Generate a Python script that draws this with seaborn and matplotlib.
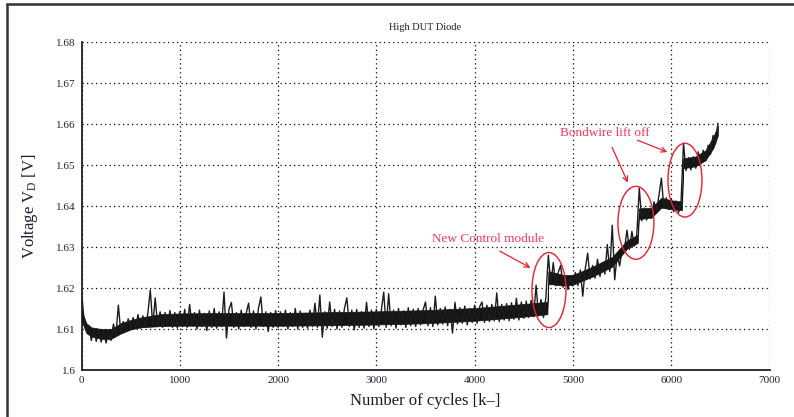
import matplotlib
matplotlib.use("Agg")
import matplotlib.pyplot as plt
import seaborn as sns
import pandas as pd
from matplotlib.patches import Ellipse
from matplotlib.lines import Line2D

sns.set_style("white")
plt.rcParams['font.family'] = ['Liberation Serif', 'DejaVu Serif']
plt.rcParams['mathtext.fontset'] = 'custom'
plt.rcParams['mathtext.rm'] = 'Liberation Serif'
plt.rcParams['mathtext.it'] = 'Liberation Serif:italic'

# ---------------- data (one sample every 25 k-cycles) ----------------
sample_step = 25
volt_0k = [1.6190, 1.6125, 1.6095, 1.6108, 1.6072, 1.6100, 1.6070, 1.6098, 1.6068, 1.6096,
           1.6066, 1.6094, 1.6072, 1.6112, 1.6085, 1.6158, 1.6092, 1.6118, 1.6096, 1.6125,
           1.6100, 1.6128, 1.6104, 1.6135, 1.6102, 1.6132, 1.6104, 1.6138, 1.6195, 1.6108,
           1.6176, 1.6106, 1.6142, 1.6104, 1.6140, 1.6108, 1.6145, 1.6104, 1.6140, 1.6102]
volt_1k = [1.6142, 1.6106, 1.6148, 1.6104, 1.6160, 1.6108, 1.6140, 1.6100, 1.6146, 1.6106,
           1.6138, 1.6096, 1.6144, 1.6104, 1.6150, 1.6102, 1.6142, 1.6106, 1.6190, 1.6078,
           1.6148, 1.6165, 1.6104, 1.6140, 1.6100, 1.6146, 1.6106, 1.6138, 1.6163, 1.6104,
           1.6144, 1.6100, 1.6150, 1.6178, 1.6106, 1.6142, 1.6094, 1.6140, 1.6104, 1.6145]
volt_2k = [1.6104, 1.6142, 1.6106, 1.6146, 1.6100, 1.6140, 1.6106, 1.6150, 1.6100, 1.6144,
           1.6104, 1.6138, 1.6102, 1.6146, 1.6106, 1.6163, 1.6104, 1.6183, 1.6080, 1.6142,
           1.6102, 1.6166, 1.6106, 1.6148, 1.6100, 1.6144, 1.6104, 1.6150, 1.6176, 1.6106,
           1.6146, 1.6098, 1.6148, 1.6104, 1.6142, 1.6102, 1.6165, 1.6106, 1.6146, 1.6100]
volt_3k = [1.6148, 1.6106, 1.6144, 1.6190, 1.6104, 1.6186, 1.6108, 1.6146, 1.6102, 1.6150,
           1.6110, 1.6144, 1.6104, 1.6152, 1.6108, 1.6148, 1.6106, 1.6150, 1.6110, 1.6146,
           1.6166, 1.6108, 1.6152, 1.6106, 1.6180, 1.6110, 1.6150, 1.6112, 1.6154, 1.6108,
           1.6148, 1.6090, 1.6165, 1.6112, 1.6152, 1.6114, 1.6156, 1.6110, 1.6150, 1.6116]
volt_4k = [1.6158, 1.6114, 1.6154, 1.6166, 1.6116, 1.6158, 1.6118, 1.6160, 1.6120, 1.6188,
           1.6118, 1.6160, 1.6122, 1.6162, 1.6120, 1.6164, 1.6124, 1.6175, 1.6122, 1.6166,
           1.6126, 1.6168, 1.6128, 1.6170, 1.6130, 1.6207, 1.6132, 1.6172, 1.6128, 1.6178,
           1.6280, 1.6208, 1.6262, 1.6206, 1.6238, 1.6255, 1.6202, 1.6230, 1.6196, 1.6226]
volt_5k = [1.6205, 1.6238, 1.6206, 1.6244, 1.6180, 1.6246, 1.6285, 1.6222, 1.6255, 1.6224,
           1.6270, 1.6228, 1.6262, 1.6234, 1.6306, 1.6240, 1.6353, 1.6220, 1.6282, 1.6254,
           1.6292, 1.6296, 1.6341, 1.6294, 1.6338, 1.6302, 1.6330, 1.6444, 1.6364, 1.6395,
           1.6366, 1.6392, 1.6370, 1.6410, 1.6388, 1.6425, 1.6468, 1.6396, 1.6420, 1.6392]
volt_6k = [1.6418, 1.6386, 1.6412, 1.6384, 1.6410, 1.6553, 1.6486, 1.6518, 1.6488, 1.6520,
           1.6492, 1.6532, 1.6502, 1.6536, 1.6510, 1.6548, 1.6526, 1.6572, 1.6552, 1.6602]

# dense core of the noisy trace (lower / upper edge of the solid black band)
env_cycles = [0, 50, 100, 200, 300, 400, 500, 600, 800, 1000, 1500, 2000, 2500, 3000,
              3500, 4000, 4500, 4740, 4750, 4900, 5000, 5200, 5400, 5550, 5660, 5670,
              5800, 5900, 6000, 6110, 6120, 6250, 6350, 6430, 6475]
env_lo = [1.6120, 1.6090, 1.6082, 1.6076, 1.6076, 1.6089, 1.6099, 1.6104, 1.6107, 1.6108,
          1.6108, 1.6108, 1.6109, 1.6111, 1.6114, 1.6120, 1.6130, 1.6136, 1.6210, 1.6206,
          1.6208, 1.6228, 1.6252, 1.6296, 1.6310, 1.6368, 1.6372, 1.6396, 1.6392, 1.6390,
          1.6492, 1.6497, 1.6512, 1.6542, 1.6572]
env_hi = [1.6145, 1.6114, 1.6104, 1.6100, 1.6100, 1.6114, 1.6122, 1.6128, 1.6136, 1.6138,
          1.6139, 1.6139, 1.6141, 1.6143, 1.6146, 1.6151, 1.6161, 1.6166, 1.6241, 1.6232,
          1.6232, 1.6252, 1.6276, 1.6316, 1.6330, 1.6394, 1.6396, 1.6420, 1.6414, 1.6411,
          1.6516, 1.6521, 1.6536, 1.6570, 1.6596]

x_ticks = [0, 1000, 2000, 3000, 4000, 5000, 6000, 7000]
y_ticks = [1.60, 1.61, 1.62, 1.63, 1.64, 1.65, 1.66, 1.67, 1.68]
y_tick_labels = ["1.6", "1.61", "1.62", "1.63", "1.64", "1.65", "1.66", "1.67", "1.68"]

note_control = "New Control module"
note_bond = "Bondwire lift off"
ellipse_centres = [(4756, 1.6195), (5641, 1.6359), (6140, 1.6463)]
ellipse_w = [346, 366, 346]
ellipse_h = [0.0183, 0.0178, 0.0180]

volt = volt_0k + volt_1k + volt_2k + volt_3k + volt_4k + volt_5k + volt_6k
cycles = [i * sample_step for i in range(len(volt))]
df = pd.DataFrame({"cycles": cycles, "voltage": volt})

# ---------------- figure ----------------
fig = plt.figure(figsize=(7.94, 4.17), dpi=100)
fig.patch.set_facecolor("white")
ax = fig.add_axes([81.5 / 794, 1 - 370 / 417, 688 / 794, 328 / 417])

ax.fill_between(env_cycles, env_lo, env_hi, color="#141414", linewidth=0.5,
                edgecolor="#141414", zorder=3)
sns.lineplot(data=df, x="cycles", y="voltage", ax=ax, color="#1c1c1c",
             linewidth=1.0, estimator=None, zorder=3)

ax.set_xlim(0, 7000)
ax.set_ylim(1.6, 1.68)
ax.set_xticks(x_ticks)
ax.set_xticklabels([str(t) for t in x_ticks])
ax.set_yticks(y_ticks)
ax.set_yticklabels(y_tick_labels)
ax.grid(True, linestyle=(0, (1, 2.6)), color="black", linewidth=0.9)
ax.set_axisbelow(True)
ax.tick_params(direction="in", length=4, width=1.1, labelsize=8,
               labelcolor="#222238", color="#222222", pad=4)
for s in ["top", "right"]:
    ax.spines[s].set_visible(False)
for s in ["left", "bottom"]:
    ax.spines[s].set_color("#222222")
    ax.spines[s].set_linewidth(1.3)

ax.set_xlabel("Number of cycles [k\u2013]", fontsize=12, color="#1a1a2e")
ax.xaxis.set_label_coords(0.5, -0.093)
ax.xaxis.label.set_va("center")
ax.set_ylabel(r"Voltage $\mathrm{V_D}$ [V]", fontsize=12, color="#1a1a2e")
ax.yaxis.set_label_coords(-0.075, 0.5)
ax.yaxis.label.set_va("center")

fig.text(425.5 / 794, 1 - 27 / 417, "High DUT Diode", ha="center", va="center",
         fontsize=7.5, color="#1a1a2e")

red = "#e8202c"
txt_red = "#f23a5c"
for (cx, cy), w, h in zip(ellipse_centres, ellipse_w, ellipse_h):
    ax.add_patch(Ellipse((cx, cy), w, h, fill=False, edgecolor=red, linewidth=1.0, zorder=4))

ax.text(4135, 1.6320, note_control, ha="center", va="center", fontsize=9.5, color=txt_red, zorder=5)
ax.text(5321, 1.6578, note_bond, ha="center", va="center", fontsize=9.5, color=txt_red, zorder=5)

arrow_kw = dict(arrowstyle="->", color=red, lw=0.9, mutation_scale=9)
ax.annotate("", xy=(4593, 1.6246), xytext=(4232, 1.6293), arrowprops=arrow_kw, zorder=5)
ax.annotate("", xy=(5570, 1.6451), xytext=(5387, 1.6549), arrowprops=arrow_kw, zorder=5)
ax.annotate("", xy=(5987, 1.6529), xytext=(5631, 1.6563), arrowprops=arrow_kw, zorder=5)

# outer frame (only left and top edges visible in the reference)
fig.add_artist(Line2D([7 / 794, 7 / 794], [0, 1 - 4 / 417], transform=fig.transFigure,
                      color="#333333", linewidth=1.8))
fig.add_artist(Line2D([7 / 794, 1], [1 - 4 / 417, 1 - 4 / 417], transform=fig.transFigure,
                      color="#333333", linewidth=1.8))

fig.savefig("out.png", dpi=100, facecolor="white")
